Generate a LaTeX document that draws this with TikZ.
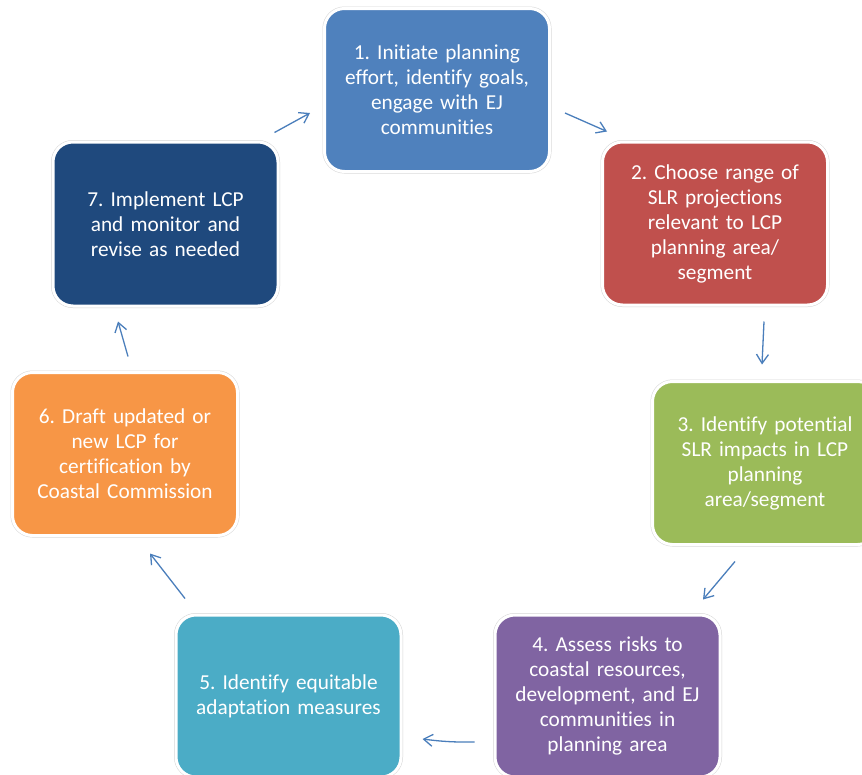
\documentclass[tikz,border=0pt]{standalone}
\usepackage{fontspec}
\setmainfont{Carlito}[Ligatures=NoCommon]
\usetikzlibrary{positioning,arrows.meta,calc}
\definecolor{stepBlue}{HTML}{4F81BD}
\definecolor{stepRed}{HTML}{C0504D}
\definecolor{stepGreen}{HTML}{9BBB59}
\definecolor{stepPurple}{HTML}{8064A2}
\definecolor{stepAqua}{HTML}{4BACC6}
\definecolor{stepOrange}{HTML}{F79646}
\definecolor{stepNavy}{HTML}{1F497D}
\definecolor{flowBlue}{HTML}{4A7EBB}
\frenchspacing

\tikzset{
  stepbox/.style={rounded corners=20pt, text=white, align=center,
    minimum width=225pt, minimum height=163pt, text width=218pt,
    font=\fontsize{21.3pt}{25pt}\selectfont,
    preaction={draw=black!16, line width=4pt}, draw=white, line width=3pt},
  flow/.style={draw=flowBlue, line width=1.3pt, -{Straight Barb[length=9pt,width=12pt]}}
}

\begin{document}
\begin{tikzpicture}[x=1pt,y=-1pt]
  \clip (0,0) rectangle (862,774);
  \fill[white] (0,0) rectangle (862,774);

  % the seven steps of the cycle
  \node[stepbox,fill=stepBlue]   (s1) at (437,90)    {1. Initiate planning\\effort, identify goals,\\engage with EJ\\communities};
  \node[stepbox,fill=stepRed]    (s2) at (715,223.5) {2. Choose range of\\SLR projections\\relevant to LCP\\planning area/\\segment};
  \node[stepbox,fill=stepGreen]  (s3) at (765,463)   {3. Identify potential\\SLR impacts in LCP\\planning\\area/segment};
  \node[stepbox,fill=stepPurple,minimum height=162pt] (s4) at (607.5,696) {4. Assess risks to\\coastal resources,\\development, and EJ\\communities in\\planning area};
  \node[stepbox,fill=stepAqua,minimum height=162pt]   (s5) at (288.5,696) {5. Identify equitable\\adaptation measures};
  \node[stepbox,fill=stepOrange] (s6) at (125,454)   {6. Draft updated or\\new LCP for\\certification by\\Coastal Commission};
  \node[stepbox,fill=stepNavy,minimum height=164pt]   (s7) at (165.5,224) {7. Implement LCP\\and monitor and\\revise as needed};

  % arrows between the steps
  \draw[flow] ([shift={(14,23)}]s1.east) -- ([shift={(6,-9)}]s2.north west);
  \draw[flow] ([shift={(49,15)}]s2.south) -- ([shift={(-3,-15.5)}]s3.north);
  \draw[flow] ([shift={(-30,15.5)}]s3.south) -- ([shift={(95.5,-14)}]s4.north);
  \draw[flow] ([shift={(-19,46)}]s4.west) to[bend left=4] ([shift={(20,43)}]s5.east);
  \draw[flow] ([shift={(-103.5,-15)}]s5.north) -- ([shift={(25,16.5)}]s6.south);
  \draw[flow] ([shift={(3,-14.5)}]s6.north) -- ([shift={(-47.5,14)}]s7.south);
  \draw[flow] ([shift={(-5,-8)}]s7.north east) -- ([shift={(-13,23)}]s1.west);
\end{tikzpicture}
\end{document}
